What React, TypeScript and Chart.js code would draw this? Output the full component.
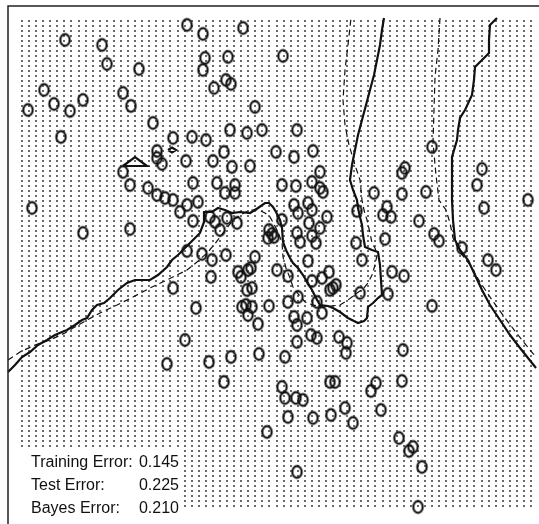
import React, { useEffect, useRef } from "react";
import { Chart, registerables } from "chart.js";

Chart.register(...registerables);

const W = 539;
const H = 524;

// Training points (x, y in plot units; y grows downward like the figure)
const circleX: number[] = [];
const circleY: number[] = [];
const circlePoints: [number, number][] = [
  [65, 40], [102, 45], [107, 64], [139, 69], [44, 90], [54, 104], [28, 110], [70, 111], [83, 100],
  [123, 93], [131, 106], [153, 123], [61, 137], [173, 138], [157, 151], [157, 158], [162, 164], [123, 172],
  [187, 25], [243, 28], [203, 34], [205, 58], [228, 57], [203, 70], [226, 80], [231, 84], [214, 88],
  [283, 56], [255, 107],
  [192, 137], [206, 140], [230, 130], [247, 133], [262, 130], [297, 130], [224, 152], [276, 152],
  [294, 157], [313, 151], [186, 161], [213, 161], [232, 167], [250, 166], [320, 172], [296, 186],
  [130, 185], [148, 188], [157, 195], [165, 198], [173, 200], [187, 205], [180, 212], [193, 183],
  [217, 183], [235, 185], [225, 193], [235, 193], [198, 202], [210, 217], [215, 222], [227, 218],
  [237, 223], [220, 230], [193, 221], [32, 208], [83, 233], [130, 229], [187, 251], [202, 254],
  [212, 260], [226, 255], [211, 277], [238, 272], [241, 277], [248, 270], [173, 288], [247, 290],
  [282, 185], [312, 182], [320, 188], [323, 192], [374, 193], [402, 194], [426, 192], [294, 205],
  [308, 203], [298, 213], [312, 210], [282, 220], [387, 207], [383, 215], [391, 217], [357, 211],
  [419, 221], [309, 223], [327, 217], [320, 228], [297, 233], [312, 236], [300, 242], [316, 243],
  [269, 230], [272, 234], [268, 238], [274, 237], [434, 234], [439, 241], [385, 239], [356, 243],
  [255, 257], [251, 268], [308, 261], [362, 260], [392, 272], [404, 276], [277, 270], [288, 276],
  [329, 272], [322, 278], [312, 281], [336, 285], [333, 288], [330, 290], [360, 293], [388, 294],
  [252, 288], [298, 297], [288, 302], [317, 302], [269, 306], [322, 313], [294, 317], [307, 318],
  [432, 306], [297, 325], [258, 324],
  [196, 308], [242, 307], [246, 305], [252, 307], [248, 315], [311, 335], [317, 338], [297, 342],
  [339, 337], [347, 343], [346, 353], [403, 350], [185, 340], [167, 364], [209, 362], [231, 357],
  [259, 354], [285, 357], [224, 382], [282, 387], [285, 398], [296, 398], [303, 400], [330, 382],
  [335, 382], [376, 383], [371, 391], [402, 381], [345, 408], [381, 410], [288, 417], [313, 418],
  [331, 415], [353, 423], [267, 432], [399, 438], [413, 447], [409, 451], [422, 467], [297, 472],
  [418, 507],
  [432, 147], [482, 169], [477, 185], [405, 168], [402, 173], [528, 200], [484, 208], [462, 248],
  [488, 260], [496, 270],
];
circlePoints.forEach(([x, y]) => { circleX.push(x); circleY.push(y); });

// Decision boundary (solid) and Bayes boundary (dashed)
const solidMain: [number, number][] = [
  [8, 372], [15, 365], [22, 357], [30, 352], [38, 345], [47, 340], [55, 335], [62, 332], [67, 330],
  [75, 325], [82, 320], [87, 318], [92, 310], [97, 305], [104, 303], [110, 298], [118, 290],
  [127, 283], [135, 280], [150, 280], [158, 275], [167, 267], [172, 260], [178, 255], [183, 250],
  [190, 243], [200, 233], [204, 222], [204, 212], [212, 212], [218, 208], [225, 210], [232, 213],
  [240, 212], [250, 213], [258, 208], [265, 203], [269, 203], [273, 207], [276, 212], [280, 220],
  [282, 228], [283, 242], [286, 250], [290, 258], [293, 263], [298, 268], [303, 275], [307, 282],
  [312, 290], [316, 298], [320, 305], [328, 306], [333, 308], [340, 312], [348, 318], [358, 323],
  [364, 321], [367, 318], [368, 307], [373, 303], [378, 298], [382, 295], [381, 280], [380, 265],
  [378, 252], [372, 250], [365, 247], [363, 235], [362, 225], [360, 217], [358, 208], [357, 200],
  [353, 190], [350, 180], [352, 165], [355, 150], [358, 135], [362, 120], [366, 105], [370, 90],
  [374, 75], [377, 60], [380, 45], [382, 30], [384, 18],
];
const solidRight: [number, number][] = [
  [497, 18], [490, 25], [489, 40], [489, 53], [480, 62], [475, 67], [474, 80], [472, 95], [465, 110],
  [460, 118], [458, 130], [457, 140], [452, 157], [452, 175], [452, 200], [453, 220], [455, 240],
  [460, 250], [468, 260], [475, 275], [482, 290], [490, 305], [500, 320], [510, 335], [520, 348],
  [528, 358], [536, 368],
];
const solidTriangle: [number, number][] = [[123, 166], [135, 157], [147, 166], [123, 166]];
const solidDiamond: [number, number][] = [[168, 150], [172, 147.5], [176, 150], [172, 152.5], [168, 150]];
const dashedMain: [number, number][] = [
  [8, 360], [20, 352], [35, 345], [50, 340], [65, 333], [73, 328], [87, 320], [100, 313], [117, 305],
  [133, 297], [150, 288], [167, 280], [187, 270], [197, 262], [207, 253], [214, 245], [220, 237],
  [227, 228], [233, 220], [242, 214], [250, 210], [258, 210], [265, 213], [270, 217], [276, 228],
  [282, 242], [283, 257], [286, 268], [290, 278], [293, 287], [299, 295], [305, 302], [313, 305],
  [322, 307], [331, 306], [340, 305], [348, 300], [357, 293], [363, 289], [368, 283], [372, 275],
  [375, 265], [377, 255], [375, 248], [372, 243], [370, 233], [367, 220], [364, 210], [362, 200],
  [360, 180], [355, 165], [349, 145], [345, 125], [343, 100], [345, 70], [348, 45], [351, 18],
];
const dashedRight: [number, number][] = [
  [440, 18], [438, 50], [435, 77], [434, 110], [433, 143], [436, 175], [439, 200], [446, 210],
  [450, 223], [453, 238], [460, 252], [470, 265], [480, 282], [492, 300], [505, 318], [518, 335],
  [530, 350], [536, 357],
];

// Prediction lattice
const gridXRange = [22, 531];
const gridYRange = [21, 506];
const gridCols = 73;
const gridRows = 98;
const legendBox = { xMax: 183, yMin: 447 };

const errorLabels = ["Training Error:", "Test Error:", "Bayes Error:"];
const errorValues = ["0.145", "0.225", "0.210"];

const toXY = (arr: [number, number][]) => arr.map(([x, y]) => ({ x, y }));

function makeO(): HTMLCanvasElement {
  const c = document.createElement("canvas");
  c.width = 15;
  c.height = 17;
  const g = c.getContext("2d")!;
  g.strokeStyle = "#111";
  g.lineWidth = 2.1;
  g.beginPath();
  g.ellipse(7.5, 8.5, 4.7, 5.9, 0, 0, Math.PI * 2);
  g.stroke();
  return c;
}

export default function App() {
  const ref = useRef<HTMLCanvasElement | null>(null);
  useEffect(() => {
    if (!ref.current) return;
    const grid: { x: number; y: number }[] = [];
    for (let i = 0; i < gridCols; i++) {
      const x = gridXRange[0] + (i * (gridXRange[1] - gridXRange[0])) / (gridCols - 1);
      for (let j = 0; j < gridRows; j++) {
        const y = gridYRange[0] + (j * (gridYRange[1] - gridYRange[0])) / (gridRows - 1);
        if (x < legendBox.xMax && y > legendBox.yMin) continue;
        grid.push({ x, y });
      }
    }
    const circles = circleX.map((x, i) => ({ x, y: circleY[i] }));
    const oImg = makeO();

    const gridPlugin = {
      id: "gridDots",
      beforeDatasetsDraw(chart: any) {
        const ctx = chart.ctx as CanvasRenderingContext2D;
        const xs = chart.scales.x;
        const ys = chart.scales.y;
        ctx.save();
        ctx.fillStyle = "#6a6a6a";
        for (const p of grid) {
          const px = Math.round(xs.getPixelForValue(p.x));
          const py = Math.round(ys.getPixelForValue(p.y));
          ctx.fillRect(px - 1, py - 1, 2, 2);
        }
        ctx.restore();
      },
    };

    const overlay = {
      id: "overlay",
      afterDraw(chart: any) {
        const ctx = chart.ctx as CanvasRenderingContext2D;
        const xs = chart.scales.x;
        const ys = chart.scales.y;
        ctx.save();
        ctx.strokeStyle = "#222";
        ctx.lineWidth = 1.5;
        ctx.beginPath();
        ctx.moveTo(xs.getPixelForValue(8), ys.getPixelForValue(524));
        ctx.lineTo(xs.getPixelForValue(8), ys.getPixelForValue(6));
        ctx.lineTo(xs.getPixelForValue(539), ys.getPixelForValue(6));
        ctx.stroke();
        ctx.fillStyle = "#111";
        ctx.font = '16px "Liberation Sans", Arial, sans-serif';
        ctx.textBaseline = "alphabetic";
        const baselines = [467, 490, 513];
        errorLabels.forEach((lab, i) => {
          ctx.textAlign = "left";
          ctx.fillText(lab, xs.getPixelForValue(31), ys.getPixelForValue(baselines[i]));
          ctx.textAlign = "right";
          ctx.fillText(errorValues[i], xs.getPixelForValue(179), ys.getPixelForValue(baselines[i]));
        });
        ctx.restore();
      },
    };

    const lineDs = (pts: [number, number][], dashed: boolean, order: number) => ({
      type: "scatter" as const,
      data: toXY(pts),
      showLine: true,
      pointRadius: 0,
      borderColor: "#111",
      borderWidth: dashed ? 1.2 : 2.2,
      borderDash: dashed ? [6, 4] : [],
      tension: 0,
      order,
    });

    const chart = new Chart(ref.current, {
      type: "scatter",
      data: {
        datasets: [
          lineDs(dashedMain, true, 5),
          lineDs(dashedRight, true, 5),
          lineDs(solidMain, false, 4),
          lineDs(solidRight, false, 4),
          lineDs(solidTriangle, false, 4),
          lineDs(solidDiamond, false, 4),
          {
            data: circles,
            pointStyle: oImg,
            pointRadius: 6,
            order: 1,
          } as any,
        ],
      },
      options: {
        animation: false,
        responsive: false,
        devicePixelRatio: 1,
        events: [],
        layout: { padding: 0, autoPadding: false },
        plugins: { legend: { display: false }, tooltip: { enabled: false } },
        scales: {
          x: { type: "linear", min: 0, max: W, display: false },
          y: { type: "linear", min: 0, max: H, reverse: true, display: false },
        },
      },
      plugins: [gridPlugin, overlay],
    });
    return () => chart.destroy();
  }, []);

  return (
    <div style={{ position: "fixed", left: 0, top: 0, width: W, height: H, background: "#fff" }}>
      <canvas ref={ref} width={W} height={H} style={{ width: W, height: H }} />
    </div>
  );
}
